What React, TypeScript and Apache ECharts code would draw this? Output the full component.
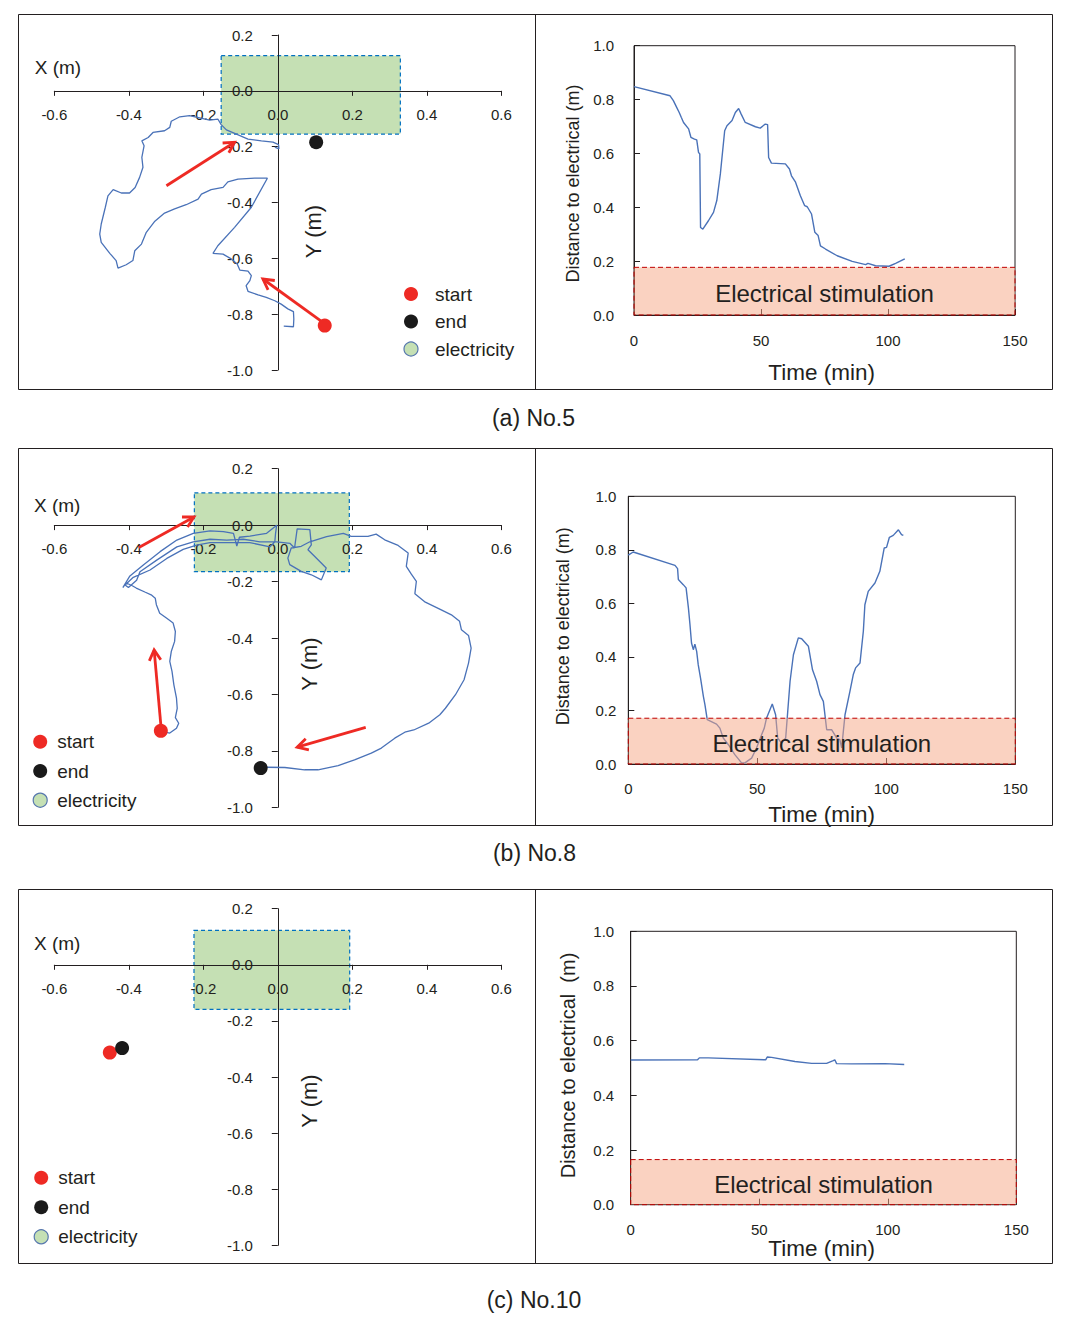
import React, { useEffect, useRef } from 'react';
import * as echarts from 'echarts';

const FONT = "'Liberation Sans', Arial, Helvetica, sans-serif";
const TXT = '#231f20';
const TRACK_BLUE = '#4a72b8';
const RED = '#ee2a24';
const ZONE_FILL = '#c5e0b4';
const ZONE_EDGE = '#0070c0';
const BAND_FILL = 'rgba(246,166,132,0.5)';
const BAND_EDGE = '#c00000';

// axis ranges / tick steps
const posXRange = [-0.6, 0.6, 0.2];
const posYRange = [-1.0, 0.2, 0.2];
const timeRange = [0, 150, 50];
const distRange = [0, 1.0, 0.2];
const legendNames = ['start', 'end', 'electricity'];
const captions = ['(a) No.5', '(b) No.8', '(c) No.10'];

// ---------- (a) No.5 ----------
const trackA = [
  [0.016, -0.843], [0.042, -0.845], [0.043, -0.817], [0.042, -0.791], [0.027, -0.781], [0.009, -0.764],
  [-0.008, -0.752], [-0.031, -0.74], [-0.053, -0.731], [-0.08, -0.718], [-0.085, -0.698], [-0.075, -0.68],
  [-0.071, -0.662], [-0.08, -0.646], [-0.102, -0.642], [-0.109, -0.62], [-0.125, -0.602], [-0.147, -0.585],
  [-0.174, -0.582], [-0.161, -0.555], [-0.116, -0.489], [-0.071, -0.417], [-0.028, -0.313], [-0.062, -0.313],
  [-0.107, -0.316], [-0.134, -0.326], [-0.147, -0.346], [-0.179, -0.354], [-0.205, -0.37], [-0.214, -0.388],
  [-0.246, -0.408], [-0.277, -0.423], [-0.304, -0.438], [-0.33, -0.467], [-0.353, -0.507], [-0.366, -0.549],
  [-0.384, -0.573], [-0.389, -0.608], [-0.407, -0.623], [-0.429, -0.635], [-0.434, -0.608], [-0.451, -0.582],
  [-0.474, -0.543], [-0.478, -0.513], [-0.474, -0.477], [-0.463, -0.417], [-0.456, -0.376], [-0.442, -0.354],
  [-0.42, -0.366], [-0.398, -0.366], [-0.383, -0.346], [-0.371, -0.31], [-0.362, -0.274], [-0.365, -0.238],
  [-0.359, -0.197], [-0.365, -0.179], [-0.348, -0.167], [-0.335, -0.149], [-0.304, -0.143], [-0.29, -0.131],
  [-0.286, -0.109], [-0.263, -0.093], [-0.237, -0.089], [-0.21, -0.097], [-0.183, -0.105], [-0.161, -0.101],
  [-0.152, -0.121], [-0.138, -0.14], [-0.111, -0.155], [-0.08, -0.173], [-0.044, -0.179], [-0.013, -0.184],
  [0.002, -0.193], [0.003, -0.208], [-0.008, -0.202],
];
const startA = [[0.126, -0.841]];
const endA = [[0.103, -0.184]];
const arrowsA = [[-0.299, -0.34, -0.116, -0.184], [0.121, -0.829, -0.04, -0.674]];
const zoneA = [[-0.152, 0.329, -0.155, 0.126]];
const distA = [
  [0, 0.848], [14.2, 0.814], [15.5, 0.796], [16.8, 0.771], [17.8, 0.752], [18.6, 0.734], [19.5, 0.715],
  [21.5, 0.691], [22.4, 0.66], [23.8, 0.653], [24.7, 0.65], [25.4, 0.604], [25.9, 0.598], [26.2, 0.325],
  [27.1, 0.319], [29.3, 0.35], [31.3, 0.381], [32.6, 0.425], [34.0, 0.524], [35.7, 0.684], [36.6, 0.703],
  [38.6, 0.722], [39.9, 0.752], [41.2, 0.767], [42.2, 0.746], [43.8, 0.715], [47.8, 0.699], [49.7, 0.694],
  [51.7, 0.709], [52.6, 0.707], [53.0, 0.585], [54.1, 0.564], [59.6, 0.561], [61.2, 0.542], [62.0, 0.517],
  [63.6, 0.493], [65.5, 0.443], [67.2, 0.406], [68.2, 0.402], [69.9, 0.375], [71.2, 0.307], [72.5, 0.295],
  [73.4, 0.257], [75.4, 0.245], [80.0, 0.22], [85.9, 0.199], [91.2, 0.187], [92.1, 0.192], [95.1, 0.183],
  [100.4, 0.181], [103.0, 0.192], [106.6, 0.208],
];
const bandA = [[0, 150, 0, 0.177]];

// ---------- (b) No.8 ----------
const trackB = [
  [-0.313, -0.731], [-0.29, -0.737], [-0.272, -0.72], [-0.266, -0.702], [-0.275, -0.682], [-0.27, -0.649],
  [-0.272, -0.613], [-0.279, -0.566], [-0.284, -0.518], [-0.29, -0.483], [-0.286, -0.448], [-0.277, -0.412],
  [-0.275, -0.377], [-0.281, -0.347], [-0.299, -0.329], [-0.317, -0.312], [-0.326, -0.282], [-0.329, -0.259],
  [-0.34, -0.247], [-0.357, -0.237], [-0.38, -0.223], [-0.393, -0.213], [-0.407, -0.205], [-0.416, -0.221],
  [-0.397, -0.18], [-0.361, -0.141], [-0.316, -0.094], [-0.271, -0.053], [-0.227, -0.029], [-0.182, -0.02],
  [-0.146, -0.023], [-0.119, -0.029], [-0.11, -0.074], [-0.103, -0.043], [-0.075, -0.039], [-0.03, -0.029],
  [-0.008, -0.006], [-0.003, 0.0], [-0.006, -0.029], [-0.008, -0.059], [-0.021, -0.077], [-0.075, -0.062],
  [-0.137, -0.062], [-0.182, -0.062], [-0.218, -0.071], [-0.254, -0.086], [-0.298, -0.118], [-0.343, -0.159],
  [-0.388, -0.185], [-0.41, -0.212], [-0.401, -0.221], [-0.379, -0.195], [-0.37, -0.165], [-0.325, -0.124],
  [-0.271, -0.077], [-0.227, -0.059], [-0.182, -0.05], [-0.137, -0.053], [-0.093, -0.05], [-0.048, -0.059],
  [-0.003, -0.059], [0.033, -0.065], [0.045, -0.081], [0.052, -0.013], [0.086, -0.016], [0.09, -0.07],
  [0.081, -0.087], [0.112, -0.128], [0.13, -0.152], [0.117, -0.194], [0.09, -0.176], [0.063, -0.164],
  [0.032, -0.14], [0.027, -0.117], [0.036, -0.081], [0.063, -0.075], [0.086, -0.059], [0.131, -0.041],
  [0.176, -0.029], [0.197, -0.04], [0.242, -0.04], [0.264, -0.032], [0.287, -0.052], [0.323, -0.072],
  [0.35, -0.099], [0.345, -0.146], [0.358, -0.173], [0.372, -0.199], [0.368, -0.243], [0.396, -0.273],
  [0.432, -0.296], [0.466, -0.318], [0.488, -0.341], [0.493, -0.371], [0.512, -0.391], [0.519, -0.436],
  [0.512, -0.489], [0.5, -0.548], [0.477, -0.601], [0.45, -0.649], [0.435, -0.672], [0.405, -0.702],
  [0.365, -0.726], [0.341, -0.734], [0.314, -0.755], [0.278, -0.79], [0.251, -0.808], [0.206, -0.832],
  [0.162, -0.852], [0.108, -0.867], [0.072, -0.867], [0.019, -0.859], [-0.031, -0.858],
];
const startB = [[-0.314, -0.729]];
const endB = [[-0.046, -0.861]];
const arrowsB = [
  [-0.373, -0.079, -0.225, 0.029],
  [-0.314, -0.708, -0.332, -0.442],
  [0.236, -0.717, 0.052, -0.787],
];
const zoneB = [[-0.224, 0.192, -0.165, 0.114]];
const distB = [
  [0, 0.78], [1.9, 0.792], [18.1, 0.742], [19.1, 0.73], [19.4, 0.689], [21.3, 0.67], [22.4, 0.658],
  [23.3, 0.583], [23.9, 0.521], [24.5, 0.452], [25.2, 0.427], [25.8, 0.448], [26.5, 0.421], [27.1, 0.371],
  [28.0, 0.321], [29.1, 0.253], [29.7, 0.222], [30.6, 0.166], [34.2, 0.149], [35.5, 0.134], [36.8, 0.097],
  [38.8, 0.072], [41.3, 0.035], [43.9, 0.004], [45.2, 0.004], [47.8, 0.022], [49.7, 0.06], [51.7, 0.11],
  [52.7, 0.134], [53.6, 0.172], [55.8, 0.224], [57.1, 0.184], [57.9, 0.097], [59.4, 0.078], [61.0, 0.097],
  [61.8, 0.197], [62.7, 0.309], [64.0, 0.408], [65.9, 0.471], [67.2, 0.468], [69.8, 0.44], [71.4, 0.352],
  [73.0, 0.309], [74.3, 0.259], [75.6, 0.234], [76.9, 0.128], [78.8, 0.128], [80.8, 0.097], [82.0, 0.091],
  [82.7, 0.06], [84.0, 0.184], [85.9, 0.271], [87.2, 0.334], [88.1, 0.359], [89.8, 0.377], [91.1, 0.496],
  [91.7, 0.595], [93.0, 0.645], [95.6, 0.676], [97.5, 0.72], [99.2, 0.807], [100.1, 0.809], [101.2, 0.847],
  [102.7, 0.854], [104.7, 0.875], [105.9, 0.857], [106.6, 0.854],
];
const bandB = [[0, 150, 0, 0.171]];

// ---------- (c) No.10 ----------
const trackC: number[][] = [];
const startC = [[-0.451, -0.313]];
const endC = [[-0.418, -0.297]];
const arrowsC: number[][] = [];
const zoneC = [[-0.225, 0.193, -0.159, 0.123]];
const distC = [
  [0, 0.529], [26.0, 0.53], [26.7, 0.537], [30.2, 0.537], [52.5, 0.53], [53.1, 0.54], [54.8, 0.539],
  [63.9, 0.524], [70.4, 0.517], [76.2, 0.517], [78.8, 0.527], [79.4, 0.53], [80.1, 0.516], [85.9, 0.515],
  [98.9, 0.516], [106.4, 0.513],
];
const bandC = [[0, 150, 0, 0.165]];

const panels = [
  { track: trackA, start: startA, end: endA, arrows: arrowsA, zone: zoneA, dist: distA, band: bandA },
  { track: trackB, start: startB, end: endB, arrows: arrowsB, zone: zoneB, dist: distB, band: bandB },
  { track: trackC, start: startC, end: endC, arrows: arrowsC, zone: zoneC, dist: distC, band: bandC },
];

// ---------- layout (pixels) ----------
const leftGrids = [
  { left: 54.3, width: 447, top: 35, height: 335 },
  { left: 54.3, width: 447, top: 468.7, height: 338.6 },
  { left: 54.3, width: 447, top: 908.7, height: 336.6 },
];
const rightGrids = [
  { left: 634, width: 381, top: 45.7, height: 269.3 },
  { left: 628.3, width: 387, top: 496.3, height: 267.7 },
  { left: 630.7, width: 385.6, top: 931.3, height: 273.4 },
];
const rightXMargin = [18, 16.5, 17.5];
const rightYMargin = [20, 12, 16.5];
const legendLayouts = [
  { left: 398.4, top: 279.5, itemWidth: 38, itemGap: 8.5 },
  { left: 27.6, top: 727.3, itemWidth: 24, itemGap: 10.2 },
  { left: 28.6, top: 1163.3, itemWidth: 24, itemGap: 10.5 },
];
const frames = [
  { y: 14.5, h: 375 },
  { y: 448.5, h: 377 },
  { y: 889.5, h: 374 },
];
const titlePos = [
  { xm: [34.7, 67], ym: [313, 231.5], dist: [573.3, 183.5, 18], time: [821.7, 372], cap: [533.5, 418] },
  { xm: [34, 505], ym: [309, 664], dist: [563.3, 626.3, 18], time: [821.7, 814], cap: [534.5, 853] },
  { xm: [34, 943], ym: [309, 1101], dist: [568.3, 1065.5, 20], time: [821.7, 1248], cap: [534, 1300] },
];
const distLabels = ['Distance to electrical (m)', 'Distance to electrical (m)', 'Distance to electrical  (m)'];

const fmt1 = (v: number) => (Math.abs(v) < 1e-9 ? 0 : v).toFixed(1);

function textEl(text: string, x: number, y: number, size: number, opts: any = {}) {
  return {
    type: 'text',
    x,
    y,
    rotation: opts.rotation || 0,
    silent: true,
    style: {
      text,
      fill: TXT,
      fontSize: size,
      fontFamily: FONT,
      align: opts.align || 'center',
      verticalAlign: 'middle',
      textAlign: opts.align || 'center',
      textVerticalAlign: 'middle',
    },
  };
}

function buildOption() {
  const grid: any[] = [];
  const xAxis: any[] = [];
  const yAxis: any[] = [];
  const series: any[] = [];
  const legend: any[] = [];
  const graphic: any[] = [];

  panels.forEach((p, i) => {
    const gL = grid.length;
    const lgrid = leftGrids[i];
    grid.push({ ...lgrid, containLabel: false });
    // axes cross at the origin: shift them from the grid edge to the zero position of the other axis
    const xOffset = -lgrid.height * (0 - posYRange[0]) / (posYRange[1] - posYRange[0]);
    const yOffset = -lgrid.width * (0 - posXRange[0]) / (posXRange[1] - posXRange[0]);
    xAxis.push({
      type: 'value', gridIndex: gL, min: posXRange[0], max: posXRange[1], interval: posXRange[2], z: 1,
      position: 'bottom', offset: xOffset,
      axisLine: { onZero: false, lineStyle: { color: TXT, width: 1 } },
      axisTick: { length: 5, lineStyle: { color: TXT } },
      splitLine: { show: false },
      axisLabel: { fontSize: 15, color: TXT, fontFamily: FONT, margin: 16, formatter: fmt1 },
    });
    yAxis.push({
      type: 'value', gridIndex: gL, min: posYRange[0], max: posYRange[1], interval: posYRange[2], z: 1,
      position: 'left', offset: yOffset,
      axisLine: { onZero: false, lineStyle: { color: TXT, width: 1 } },
      axisTick: { length: 6, lineStyle: { color: TXT } },
      splitLine: { show: false },
      axisLabel: { fontSize: 15, color: TXT, fontFamily: FONT, margin: 25, formatter: fmt1 },
    });
    series.push({
      type: 'custom', name: 'electricity', xAxisIndex: gL, yAxisIndex: gL, z: 0.5,
      dimensions: ['x0', 'x1', 'y0', 'y1'], encode: { x: [0, 1], y: [2, 3] },
      data: p.zone,
      renderItem: (params: any, api: any) => {
        const a = api.coord([api.value(0), api.value(3)]);
        const b = api.coord([api.value(1), api.value(2)]);
        return {
          type: 'rect',
          shape: { x: a[0], y: a[1], width: b[0] - a[0], height: b[1] - a[1] },
          style: { fill: ZONE_FILL, stroke: ZONE_EDGE, lineWidth: 1.2, lineDash: [4, 3] },
        };
      },
    });
    series.push({
      type: 'line', name: 'track', xAxisIndex: gL, yAxisIndex: gL, z: 2,
      showSymbol: false, symbol: 'none', data: p.track,
      lineStyle: { color: TRACK_BLUE, width: 1.3 },
    });
    series.push({
      type: 'custom', name: 'arrow', xAxisIndex: gL, yAxisIndex: gL, z: 4,
      dimensions: ['x0', 'y0', 'x1', 'y1'], encode: { x: [0, 2], y: [1, 3] },
      data: p.arrows,
      renderItem: (params: any, api: any) => {
        const s = api.coord([api.value(0), api.value(1)]);
        const e = api.coord([api.value(2), api.value(3)]);
        const ang = Math.atan2(e[1] - s[1], e[0] - s[0]);
        const L = 12;
        const spread = 0.5;
        const h1 = [e[0] - L * Math.cos(ang - spread), e[1] - L * Math.sin(ang - spread)];
        const h2 = [e[0] - L * Math.cos(ang + spread), e[1] - L * Math.sin(ang + spread)];
        return {
          type: 'group',
          children: [
            { type: 'line', shape: { x1: s[0], y1: s[1], x2: e[0], y2: e[1] }, style: { stroke: RED, lineWidth: 2.8 } },
            { type: 'polyline', shape: { points: [h1, e, h2] }, style: { stroke: RED, lineWidth: 2.8, fill: 'none' } },
          ],
        };
      },
    });
    series.push({
      type: 'scatter', name: 'start', xAxisIndex: gL, yAxisIndex: gL, z: 5,
      symbol: 'circle', symbolSize: 14, data: p.start, itemStyle: { color: RED, opacity: 1 },
    });
    series.push({
      type: 'scatter', name: 'end', xAxisIndex: gL, yAxisIndex: gL, z: 5,
      symbol: 'circle', symbolSize: 14, data: p.end, itemStyle: { color: '#1a1a1a', opacity: 1 },
    });

    const lg = legendLayouts[i];
    legend.push({
      orient: 'vertical', left: lg.left, top: lg.top, itemWidth: lg.itemWidth, itemHeight: 14,
      itemGap: lg.itemGap, selectedMode: false, icon: 'circle',
      textStyle: { fontSize: 19, color: TXT, fontFamily: FONT },
      data: [
        { name: legendNames[0], icon: 'circle', itemStyle: { color: RED, opacity: 1 } },
        { name: legendNames[1], icon: 'circle', itemStyle: { color: '#1a1a1a', opacity: 1 } },
        { name: legendNames[2], icon: 'circle', itemStyle: { color: ZONE_FILL, borderColor: '#5677ad', borderWidth: 1.2, opacity: 1 } },
      ],
    });

    // right panel
    const gR = grid.length;
    grid.push({ ...rightGrids[i], containLabel: false, show: true, borderColor: TXT, borderWidth: 1, backgroundColor: 'transparent' });
    xAxis.push({
      type: 'value', gridIndex: gR, min: timeRange[0], max: timeRange[1], interval: timeRange[2],
      axisLine: { lineStyle: { color: TXT } },
      axisTick: { inside: true, length: 6, lineStyle: { color: TXT } },
      splitLine: { show: false },
      axisLabel: { fontSize: 15, color: TXT, fontFamily: FONT, margin: rightXMargin[i] },
    });
    yAxis.push({
      type: 'value', gridIndex: gR, min: distRange[0], max: distRange[1], interval: distRange[2],
      axisLine: { lineStyle: { color: TXT } },
      axisTick: { inside: true, length: 6, lineStyle: { color: TXT } },
      splitLine: { show: false },
      axisLabel: { fontSize: 15, color: TXT, fontFamily: FONT, margin: rightYMargin[i], formatter: fmt1 },
    });
    series.push({
      type: 'line', name: 'distance', xAxisIndex: gR, yAxisIndex: gR, z: 2,
      showSymbol: false, symbol: 'none', data: p.dist,
      lineStyle: { color: TRACK_BLUE, width: 1.4 },
    });
    series.push({
      type: 'custom', name: 'band', xAxisIndex: gR, yAxisIndex: gR, z: 3,
      dimensions: ['x0', 'x1', 'y0', 'y1'], encode: { x: [0, 1], y: [2, 3] },
      data: p.band,
      renderItem: (params: any, api: any) => {
        const a = api.coord([api.value(0), api.value(3)]);
        const b = api.coord([api.value(1), api.value(2)]);
        return {
          type: 'group',
          children: [
            {
              type: 'rect',
              shape: { x: a[0], y: a[1], width: b[0] - a[0], height: b[1] - a[1] },
              style: { fill: BAND_FILL, stroke: BAND_EDGE, lineWidth: 1, lineDash: [5, 3] },
            },
            {
              type: 'text',
              x: (a[0] + b[0]) / 2,
              y: (a[1] + b[1]) / 2 + 2,
              style: {
                text: 'Electrical stimulation', fill: TXT, fontSize: 24, fontFamily: FONT,
                align: 'center', verticalAlign: 'middle', textAlign: 'center', textVerticalAlign: 'middle',
              },
            },
          ],
        };
      },
    });

    // frames & titles
    const fr = frames[i];
    graphic.push({ type: 'rect', silent: true, shape: { x: 18.5, y: fr.y, width: 1034, height: fr.h }, style: { fill: 'none', stroke: TXT, lineWidth: 1 } });
    graphic.push({ type: 'line', silent: true, shape: { x1: 535.5, y1: fr.y, x2: 535.5, y2: fr.y + fr.h }, style: { stroke: TXT, lineWidth: 1 } });
    const t = titlePos[i];
    graphic.push(textEl('X (m)', t.xm[0], t.xm[1], 19, { align: 'left' }));
    graphic.push(textEl('Y (m)', t.ym[0], t.ym[1], 22, { rotation: Math.PI / 2 }));
    graphic.push(textEl(distLabels[i], t.dist[0], t.dist[1], t.dist[2], { rotation: Math.PI / 2 }));
    graphic.push(textEl('Time (min)', t.time[0], t.time[1], 22.5));
    graphic.push(textEl(captions[i], t.cap[0], t.cap[1], 23));
  });

  return {
    animation: false,
    backgroundColor: '#ffffff',
    textStyle: { fontFamily: FONT },
    grid, xAxis, yAxis, series, legend, graphic,
  };
}

export default function App() {
  const ref = useRef<HTMLDivElement>(null);
  useEffect(() => {
    if (!ref.current) return;
    const chart = echarts.init(ref.current, undefined, { renderer: 'svg' });
    chart.setOption(buildOption() as any);
    return () => chart.dispose();
  }, []);
  return (
    <div
      ref={ref}
      style={{ position: 'absolute', left: 0, top: 0, width: 1082, height: 1333, background: '#fff' }}
    />
  );
}
